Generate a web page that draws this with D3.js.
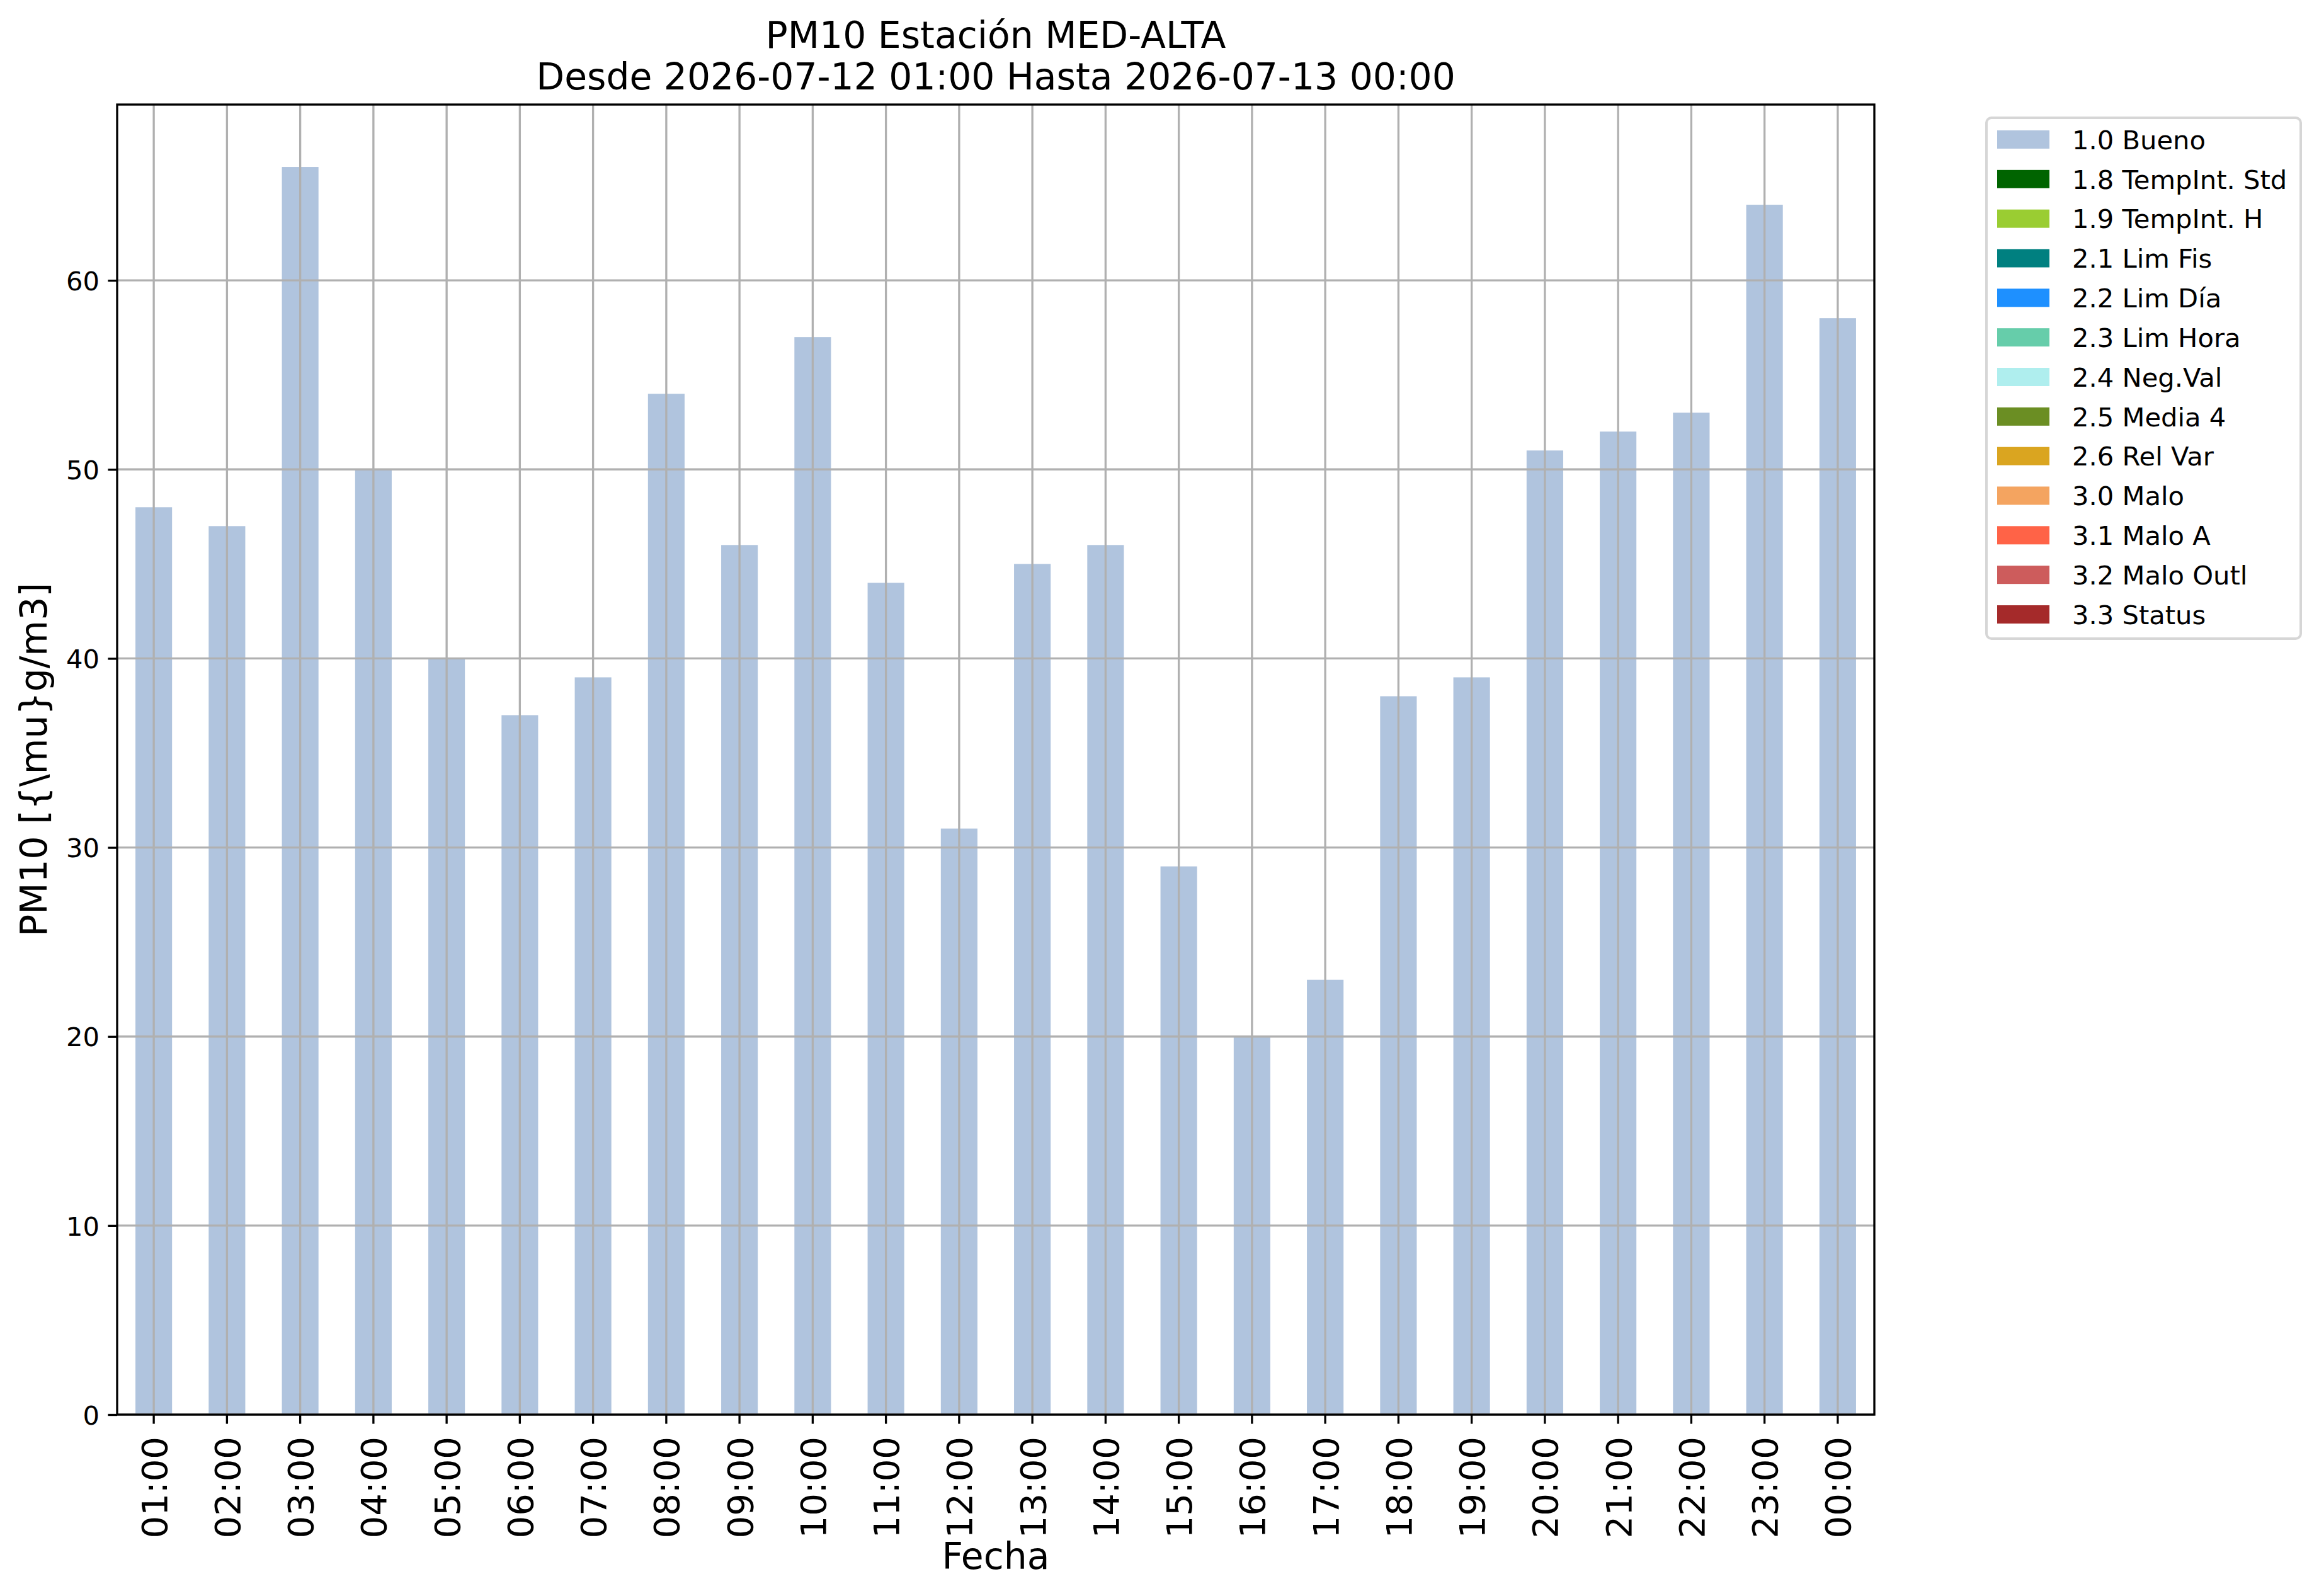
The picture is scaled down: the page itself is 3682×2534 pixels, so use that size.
<!DOCTYPE html>
<html>
<head>
<meta charset="utf-8">
<script src="https://cdn.jsdelivr.net/npm/d3@7"></script>
<style>
  html, body { margin: 0; padding: 0; background: #ffffff; }
  svg { display: block; font-family: "DejaVu Sans", sans-serif; }
</style>
</head>
<body>
<svg id="chart" width="3682" height="2534"></svg>
<script>
// ---- data ----
const hours = ["01:00","02:00","03:00","04:00","05:00","06:00","07:00","08:00","09:00","10:00","11:00","12:00",
               "13:00","14:00","15:00","16:00","17:00","18:00","19:00","20:00","21:00","22:00","23:00","00:00"];
const pm10 = [48,47,66,50,40,37,39,54,46,57,44,31,45,46,29,20,23,38,39,51,52,53,64,58];
const yTicks = [0,10,20,30,40,50,60];
const legendLabels = ["1.0 Bueno","1.8 TempInt. Std","1.9 TempInt. H","2.1 Lim Fis","2.2 Lim Día","2.3 Lim Hora",
                      "2.4 Neg.Val","2.5 Media 4","2.6 Rel Var","3.0 Malo","3.1 Malo A","3.2 Malo Outl","3.3 Status"];
const legendColors = ["#b0c4de","#006400","#9acd32","#008080","#1e90ff","#66cdaa",
                      "#afeeee","#6b8e23","#daa520","#f4a460","#ff6347","#cd5c5c","#a52a2a"];
const titleLines = ["PM10 Estación MED-ALTA","Desde 2026-07-12 01:00 Hasta 2026-07-13 00:00"];
const xLabel = "Fecha";
const yLabel = "PM10 [{\\mu}g/m3]";

// ---- layout ----
const L = 186, R = 2976, T = 166, B = 2246;
const svg = d3.select("#chart");
const lw = 3.33, gridColor = "#b0b0b0";
const fsSmall = 41.67, fsBig = 58.33, fsXTick = 56;

const x = d3.scaleBand().domain(hours).range([L, R]).paddingInner(0.5).paddingOuter(0.25);
const yMax = d3.max(pm10) * 1.05;
const y = d3.scaleLinear().domain([0, yMax]).range([B, T]);

// bars
svg.append("g").selectAll("rect").data(pm10).join("rect")
  .attr("x", (d, i) => x(hours[i]))
  .attr("y", d => y(d))
  .attr("width", x.bandwidth())
  .attr("height", d => B - y(d))
  .attr("fill", legendColors[0]);

// grid
const grid = svg.append("g").attr("stroke", gridColor).attr("stroke-width", lw);
grid.selectAll("line.v").data(hours).join("line").attr("class", "v")
  .attr("x1", d => x(d) + x.bandwidth() / 2).attr("x2", d => x(d) + x.bandwidth() / 2)
  .attr("y1", T).attr("y2", B);
grid.selectAll("line.h").data(yTicks).join("line").attr("class", "h")
  .attr("x1", L).attr("x2", R)
  .attr("y1", d => y(d)).attr("y2", d => y(d));

// spines
svg.append("rect").attr("x", L).attr("y", T).attr("width", R - L).attr("height", B - T)
  .attr("fill", "none").attr("stroke", "#000").attr("stroke-width", lw);

// y axis
const yAxis = svg.append("g").attr("transform", `translate(${L},0)`)
  .call(d3.axisLeft(y).tickValues(yTicks).tickSize(14.58).tickPadding(14).tickFormat(d3.format("d")));
yAxis.select(".domain").remove();
yAxis.selectAll(".tick line").attr("stroke", "#000").attr("stroke-width", lw);
yAxis.selectAll(".tick text").attr("font-size", fsSmall).attr("font-family", "DejaVu Sans")
  .attr("fill", "#000").attr("dy", "0.3645em").attr("x", -28);

// x axis
const xAxis = svg.append("g").attr("transform", `translate(0,${B})`)
  .call(d3.axisBottom(x).tickSize(14.58).tickPadding(14));
xAxis.select(".domain").remove();
xAxis.selectAll(".tick line").attr("stroke", "#000").attr("stroke-width", lw);
xAxis.selectAll(".tick text").attr("font-size", fsXTick).attr("font-family", "DejaVu Sans")
  .attr("fill", "#000")
  .attr("transform", "rotate(-90)")
  .attr("text-anchor", "end")
  .attr("x", -35).attr("y", 0).attr("dy", "0.3645em");

// title
svg.append("text").attr("x", (L + R) / 2).attr("y", 76).attr("text-anchor", "middle")
  .attr("font-size", fsBig).attr("fill", "#000").text(titleLines[0]);
svg.append("text").attr("x", (L + R) / 2).attr("y", 141.7).attr("text-anchor", "middle")
  .attr("font-size", fsBig).attr("fill", "#000").text(titleLines[1]);

// axis labels
svg.append("text").attr("x", (L + R) / 2).attr("y", 2491).attr("text-anchor", "middle")
  .attr("font-size", fsBig).attr("fill", "#000").text(xLabel);
svg.append("text").attr("transform", `translate(74,${(T + B) / 2}) rotate(-90)`)
  .attr("text-anchor", "middle").attr("font-size", fsBig).attr("fill", "#000").text(yLabel);

// legend
const lg = svg.append("g");
lg.append("rect").attr("x", 3154).attr("y", 187).attr("width", 499).attr("height", 827)
  .attr("rx", 8).attr("ry", 8).attr("fill", "#fff").attr("stroke", "#d6d6d6").attr("stroke-width", 4);
const rowY = d3.scaleLinear().domain([0, legendLabels.length - 1]).range([221.5, 975.5]);
const items = lg.selectAll("g.item").data(legendLabels).join("g").attr("class", "item")
  .attr("transform", (d, i) => `translate(0,${rowY(i)})`);
items.append("rect").attr("x", 3171).attr("y", -14.5).attr("width", 83).attr("height", 29)
  .attr("fill", (d, i) => legendColors[i]);
items.append("text").attr("x", 3290).attr("y", 0).attr("dy", "0.3645em")
  .attr("font-size", fsSmall).attr("fill", "#000").text(d => d);
</script>
</body>
</html>
